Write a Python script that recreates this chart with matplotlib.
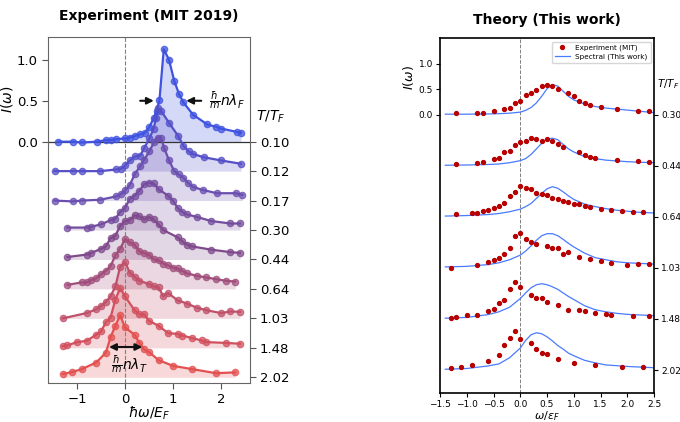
import numpy as np
import matplotlib
matplotlib.use("Agg")
import matplotlib.pyplot as plt
from matplotlib.colors import LinearSegmentedColormap

# temperatures T/T_F
temps_left = ["0.10", "0.12", "0.17", "0.30", "0.44", "0.64", "1.03", "1.48", "2.02"]
temps_right = ["0.30", "0.44", "0.64", "1.03", "1.48", "2.02"]

# MIT rf spectra, x = hbar*omega/E_F, y = I(omega)
x_010 = [-1.40, -1.09, -0.90, -0.59, -0.39, -0.30, -0.19, 0.00, 0.10, 0.21, 0.32, 0.42, 0.51, 0.60,
         0.66, 0.72, 0.81, 0.92, 1.03, 1.13, 1.22, 1.42, 1.72, 1.91, 2.01, 2.33, 2.42]
y_010 = [0.00, 0.00, -0.01, 0.00, 0.02, 0.02, 0.03, 0.04, 0.05, 0.07, 0.09, 0.11, 0.18, 0.29,
         0.38, 0.51, 1.13, 1.00, 0.74, 0.58, 0.48, 0.33, 0.21, 0.18, 0.16, 0.12, 0.11]

x_012 = [-1.47, -1.09, -0.90, -0.52, -0.19, -0.08, 0.01, 0.10, 0.21, 0.32, 0.40, 0.51, 0.60, 0.65,
         0.69, 0.75, 0.92, 1.11, 1.22, 1.33, 1.42, 1.64, 2.01, 2.42]
y_012 = [0.00, 0.00, 0.00, 0.00, 0.02, 0.03, 0.07, 0.13, 0.18, 0.19, 0.28, 0.40, 0.52, 0.65,
         0.77, 0.74, 0.59, 0.43, 0.31, 0.24, 0.21, 0.17, 0.13, 0.09]

x_017 = [-1.47, -1.09, -0.90, -0.52, -0.19, -0.08, 0.01, 0.10, 0.21, 0.32, 0.40, 0.51, 0.61, 0.68,
         0.75, 0.82, 0.92, 1.03, 1.12, 1.22, 1.31, 1.41, 1.62, 1.92, 2.31, 2.45]
y_017 = [0.00, -0.01, 0.00, 0.01, 0.05, 0.08, 0.13, 0.19, 0.33, 0.42, 0.50, 0.60, 0.72, 0.77,
         0.77, 0.64, 0.49, 0.36, 0.32, 0.28, 0.22, 0.17, 0.13, 0.09, 0.09, 0.07]

x_030 = [-1.2, -0.8, -0.7, -0.5, -0.3, -0.2, -0.1, 0.0, 0.1, 0.2, 0.3, 0.4, 0.5, 0.6, 0.7, 0.9,
         1.0, 1.1, 1.2, 1.3, 1.5, 1.8, 2.2, 2.4]
y_030 = [0.03, 0.03, 0.04, 0.07, 0.12, 0.14, 0.22, 0.27, 0.38, 0.42, 0.48, 0.56, 0.58, 0.57, 0.50, 0.42,
         0.36, 0.27, 0.22, 0.19, 0.16, 0.11, 0.08, 0.08]

x_044 = [-1.2, -0.8, -0.7, -0.5, -0.4, -0.3, -0.2, -0.1, 0.0, 0.1, 0.2, 0.3, 0.4, 0.5, 0.6, 0.7,
         0.8, 1.1, 1.2, 1.3, 1.4, 1.8, 2.2, 2.4]
y_044 = [0.03, 0.06, 0.08, 0.13, 0.16, 0.26, 0.29, 0.41, 0.47, 0.48, 0.54, 0.53, 0.49, 0.52, 0.49, 0.43,
         0.36, 0.27, 0.22, 0.18, 0.16, 0.12, 0.09, 0.08]

x_064 = [-1.2, -0.9, -0.8, -0.7, -0.6, -0.5, -0.4, -0.3, -0.2, -0.1, 0.0, 0.1, 0.2, 0.3, 0.4, 0.5,
         0.6, 0.7, 0.8, 0.9, 1.0, 1.1, 1.2, 1.3, 1.5, 1.7, 1.9, 2.1, 2.3]
y_064 = [0.05, 0.08, 0.08, 0.11, 0.13, 0.18, 0.22, 0.28, 0.41, 0.49, 0.61, 0.57, 0.54, 0.46, 0.44, 0.42,
         0.36, 0.35, 0.31, 0.29, 0.26, 0.25, 0.22, 0.19, 0.16, 0.14, 0.12, 0.10, 0.09]

x_103 = [-1.3, -0.8, -0.6, -0.5, -0.4, -0.3, -0.2, -0.1, 0.0, 0.1, 0.2, 0.3, 0.5, 0.6, 0.7, 0.8,
         0.9, 1.1, 1.3, 1.5, 1.7, 2.0, 2.2, 2.4]
y_103 = [0.00, 0.065, 0.11, 0.15, 0.20, 0.27, 0.39, 0.63, 0.69, 0.56, 0.51, 0.46, 0.42, 0.39, 0.38, 0.27,
         0.31, 0.22, 0.18, 0.13, 0.10, 0.065, 0.085, 0.08]

x_148 = [-1.3, -1.2, -1.0, -0.8, -0.6, -0.5, -0.4, -0.3, -0.2, -0.1, 0.0, 0.2, 0.3, 0.4, 0.5, 0.7,
         0.9, 1.1, 1.2, 1.4, 1.6, 1.7, 2.1, 2.4]
y_148 = [0.02, 0.03, 0.07, 0.085, 0.16, 0.20, 0.31, 0.37, 0.59, 0.73, 0.63, 0.46, 0.41, 0.41, 0.33, 0.27,
         0.18, 0.17, 0.15, 0.12, 0.09, 0.07, 0.06, 0.05]

x_202 = [-1.3, -1.1, -0.9, -0.6, -0.4, -0.3, -0.2, -0.1, 0.0, 0.2, 0.3, 0.4, 0.5, 0.7, 1.0, 1.4,
         1.9, 2.3]
y_202 = [0.04, 0.065, 0.10, 0.18, 0.30, 0.49, 0.63, 0.76, 0.61, 0.52, 0.42, 0.34, 0.31, 0.21, 0.14, 0.10,
         0.05, 0.06]

exp_x = [x_010, x_012, x_017, x_030, x_044, x_064, x_103, x_148, x_202]
exp_y = [y_010, y_012, y_017, y_030, y_044, y_064, y_103, y_148, y_202]

# spectral function theory (this work), omega/eps_F
th_x = [-1.4, -1.0, -0.6, -0.4, -0.2, 0.0, 0.1, 0.2, 0.3, 0.4, 0.5, 0.6, 0.7, 0.8, 0.9, 1.0,
        1.2, 1.4, 1.6, 1.8, 2.0, 2.2, 2.5]
th_030 = [0.01, 0.01, 0.015, 0.02, 0.03, 0.05, 0.085, 0.14, 0.23, 0.36, 0.51, 0.59, 0.56, 0.46, 0.36, 0.29,
          0.21, 0.16, 0.13, 0.11, 0.09, 0.07, 0.04]
th_044 = [0.01, 0.015, 0.025, 0.035, 0.06, 0.10, 0.14, 0.22, 0.33, 0.44, 0.52, 0.54, 0.51, 0.42, 0.33, 0.27,
          0.18, 0.14, 0.11, 0.095, 0.08, 0.07, 0.06]
th_064 = [0.015, 0.025, 0.045, 0.065, 0.10, 0.15, 0.20, 0.26, 0.36, 0.46, 0.55, 0.59, 0.56, 0.49, 0.41, 0.34,
          0.25, 0.20, 0.16, 0.13, 0.11, 0.09, 0.075]
th_103 = [0.02, 0.03, 0.065, 0.10, 0.16, 0.25, 0.33, 0.43, 0.54, 0.63, 0.67, 0.67, 0.63, 0.56, 0.48, 0.41,
          0.29, 0.20, 0.16, 0.12, 0.10, 0.09, 0.075]
th_148 = [0.015, 0.03, 0.085, 0.14, 0.23, 0.40, 0.51, 0.61, 0.67, 0.69, 0.67, 0.63, 0.58, 0.51, 0.44, 0.38,
          0.26, 0.18, 0.14, 0.11, 0.09, 0.08, 0.065]
th_202 = [0.015, 0.03, 0.08, 0.12, 0.24, 0.43, 0.58, 0.69, 0.73, 0.71, 0.65, 0.57, 0.48, 0.41, 0.33, 0.28,
          0.19, 0.14, 0.10, 0.085, 0.07, 0.06, 0.045]
th_y = [th_030, th_044, th_064, th_103, th_148, th_202]

fig = plt.figure(figsize=(6.8, 4.22), dpi=100)

# ---------------- left panel: experiment ----------------
ax1 = fig.add_axes([0.071, 0.0924, 0.296, 0.820])
cmap = LinearSegmentedColormap.from_list("bp", ["#3f52e0", "#6a4fb0", "#7e4a8c", "#c0506a", "#e35050"])
step = 0.36
for i, (xs, ys) in enumerate(zip(exp_x, exp_y)):
    off = -step * i
    c = cmap(i / 8)
    xs = np.array(xs)
    ys = np.array(ys) + off
    ax1.fill_between(xs, off, ys, color=c, alpha=0.22, lw=0)
    ax1.plot(xs, ys, '-', color=c, lw=1.6, zorder=3)
    ax1.plot(xs, ys, 'o', ms=4.6, mfc=c, mec=c, mew=0.9, alpha=0.75, zorder=4)

ax1.axhline(0, color='#333333', lw=0.9, zorder=2)
ax1.axvline(0, color='gray', ls='--', lw=0.8, zorder=1)
ax1.set_xlim(-1.6, 2.6)
ax1.set_ylim(-2.95, 1.28)
ax1.set_xticks([-1, 0, 1, 2])
ax1.set_yticks([0.0, 0.5, 1.0])
ax1.set_yticklabels(["0.0", "0.5", "1.0"])
ax1.tick_params(labelsize=9.5, length=4, color='#555555')
ax1.tick_params(axis='x', pad=3)
for s in ax1.spines.values():
    s.set_color('#666666')
    s.set_linewidth(0.8)
ax1.set_xlabel(r"$\hbar\omega/E_F$", fontsize=10, labelpad=-1)
ax1.set_ylabel(r"$I(\omega)$", fontsize=10)
ax1.yaxis.set_label_coords(-0.165, 0.82)
ax1.set_title("Experiment (MIT 2019)", fontsize=10, fontweight='bold', pad=12)

r1 = ax1.twinx()
r1.set_ylim(ax1.get_ylim())
r1.set_yticks([-step * i for i in range(len(temps_left))])
r1.set_yticklabels(temps_left)
r1.tick_params(labelsize=9.5, length=4, color='#555555')
for s in r1.spines.values():
    s.set_visible(False)
ax1.text(1.03, 0.77, r"$T/T_F$", transform=ax1.transAxes, fontsize=10, ha='left', va='center')

# arrows for width
ax1.annotate("", xy=(0.66, 0.5), xytext=(0.26, 0.5),
             arrowprops=dict(arrowstyle='-|>', color='#111111', lw=1.5, mutation_scale=10), zorder=6)
ax1.annotate("", xy=(1.22, 0.5), xytext=(1.65, 0.5),
             arrowprops=dict(arrowstyle='-|>', color='#111111', lw=1.5, mutation_scale=10), zorder=6)
ax1.text(1.75, 0.5, r"$\frac{\hbar}{m}n\lambda_F$", fontsize=10, ha='left', va='center')
ax1.annotate("", xy=(-0.39, -2.51), xytext=(0.42, -2.51),
             arrowprops=dict(arrowstyle='<|-|>', color='#111111', lw=1.5, mutation_scale=10), zorder=6)
ax1.text(0.1, -2.73, r"$\frac{\hbar}{m}n\lambda_T$", fontsize=10, ha='center', va='center', zorder=6)

# ---------------- right panel: theory ----------------
ax2 = fig.add_axes([0.647, 0.0687, 0.315, 0.841])
for i in range(len(temps_right)):
    off = -1.0 * i
    ax2.plot(th_x, np.array(th_y[i]) + off, color='#4a7bff', lw=0.9,
             label="Spectral (This work)" if i == 0 else None)
    ax2.plot(exp_x[i + 3], np.array(exp_y[i + 3]) + off, 'o', color='#b80000', ms=2.8,
             label="Experiment (MIT)" if i == 0 else None, zorder=3)
ax2.axvline(0, color='gray', ls='--', lw=0.7, zorder=1)
ax2.set_xlim(-1.5, 2.5)
ax2.set_ylim(-5.45, 1.5)
ax2.set_xticks(np.arange(-1.5, 2.51, 0.5))
ax2.set_yticks([0.0, 0.5, 1.0])
ax2.tick_params(labelsize=6.5, length=3, pad=2)
for s in ax2.spines.values():
    s.set_linewidth(1.2)
ax2.set_xlabel(r"$\omega/\epsilon_F$", fontsize=8, labelpad=0)
ax2.set_ylabel(r"$I(\omega)$", fontsize=9)
ax2.yaxis.set_label_coords(-0.11, 0.89)
ax2.set_title("Theory (This work)", fontsize=10, fontweight='bold', pad=10)
h, l = ax2.get_legend_handles_labels()
ax2.legend([h[1], h[0]], [l[1], l[0]], loc='upper right', fontsize=5.2, frameon=True,
           handlelength=2.0, borderpad=0.4, labelspacing=0.35)

r2 = ax2.twinx()
r2.set_ylim(ax2.get_ylim())
r2.set_yticks([-1.0 * i for i in range(len(temps_right))])
r2.set_yticklabels(temps_right)
r2.tick_params(labelsize=6.5, length=3, pad=2)
for s in r2.spines.values():
    s.set_visible(False)
ax2.text(1.015, 0.87, r"$T/T_F$", transform=ax2.transAxes, fontsize=7.5, ha='left', va='center')

fig.savefig("out.png", dpi=100)
